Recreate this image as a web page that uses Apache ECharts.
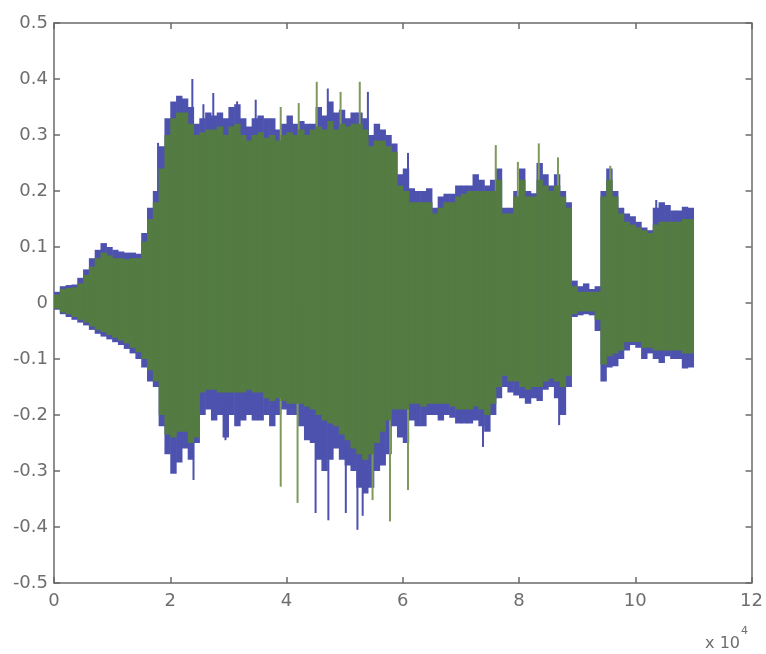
<!DOCTYPE html>
<html>
<head>
<meta charset="utf-8">
<script src="https://cdn.jsdelivr.net/npm/echarts@6/dist/echarts.min.js"></script>
<style>
html,body{margin:0;padding:0;background:#fff;}
#chart{width:766px;height:654px;}
</style>
</head>
<body>
<div id="chart"></div>
<script>
// samples per envelope bin
const BIN = 1000;
// blue channel envelope (max / min per bin)
const blueTop = [0.02,0.03,0.032,0.033,0.045,0.06,0.08,0.095,0.107,0.1,0.095,0.092,0.09,0.09,0.088,0.125,0.17,0.2,0.28,0.33,
0.36,0.37,0.365,0.35,0.32,0.33,0.34,0.335,0.34,0.33,0.35,0.355,0.33,0.315,0.33,0.335,0.33,0.33,0.31,0.32,
0.335,0.32,0.325,0.32,0.32,0.35,0.335,0.36,0.34,0.345,0.33,0.34,0.34,0.33,0.3,0.32,0.31,0.3,0.285,0.23,
0.24,0.205,0.2,0.2,0.205,0.17,0.19,0.195,0.195,0.21,0.21,0.21,0.23,0.22,0.21,0.22,0.24,0.17,0.17,0.2,
0.24,0.2,0.196,0.25,0.23,0.21,0.23,0.2,0.18,0.04,0.03,0.035,0.025,0.03,0.2,0.24,0.2,0.17,0.16,0.155,
0.145,0.135,0.13,0.17,0.18,0.175,0.165,0.165,0.172,0.17];
const blueBottom = [-0.012,-0.02,-0.025,-0.03,-0.035,-0.04,-0.048,-0.055,-0.06,-0.065,-0.07,-0.075,-0.082,-0.09,-0.1,-0.115,-0.14,-0.15,-0.22,-0.27,
-0.305,-0.285,-0.26,-0.28,-0.25,-0.2,-0.19,-0.21,-0.2,-0.24,-0.2,-0.22,-0.21,-0.2,-0.21,-0.21,-0.2,-0.22,-0.2,-0.19,
-0.2,-0.2,-0.22,-0.245,-0.25,-0.28,-0.3,-0.28,-0.26,-0.28,-0.29,-0.3,-0.33,-0.34,-0.33,-0.3,-0.29,-0.27,-0.22,-0.24,
-0.25,-0.21,-0.22,-0.22,-0.2,-0.2,-0.21,-0.2,-0.205,-0.215,-0.215,-0.215,-0.21,-0.22,-0.23,-0.2,-0.17,-0.15,-0.16,-0.165,
-0.17,-0.18,-0.17,-0.175,-0.155,-0.15,-0.17,-0.2,-0.15,-0.025,-0.022,-0.02,-0.022,-0.05,-0.14,-0.115,-0.113,-0.1,-0.085,-0.075,
-0.08,-0.1,-0.09,-0.1,-0.107,-0.095,-0.1,-0.1,-0.117,-0.115];
// green channel envelope
const greenTop = [0.015,0.025,0.027,0.028,0.035,0.05,0.065,0.08,0.09,0.085,0.08,0.08,0.078,0.08,0.08,0.11,0.15,0.18,0.24,0.30,
0.33,0.34,0.34,0.32,0.30,0.305,0.31,0.31,0.315,0.30,0.315,0.32,0.30,0.29,0.30,0.305,0.295,0.30,0.29,0.30,
0.305,0.30,0.31,0.30,0.31,0.315,0.31,0.325,0.31,0.32,0.315,0.32,0.32,0.31,0.28,0.29,0.29,0.28,0.27,0.21,
0.2,0.18,0.18,0.18,0.18,0.16,0.17,0.18,0.18,0.19,0.195,0.2,0.2,0.2,0.2,0.2,0.22,0.16,0.16,0.19,
0.22,0.19,0.19,0.22,0.21,0.2,0.21,0.19,0.17,0.03,0.02,0.02,0.02,0.02,0.19,0.22,0.19,0.16,0.145,0.14,
0.135,0.13,0.125,0.14,0.145,0.145,0.145,0.145,0.15,0.15];
const greenBottom = [-0.01,-0.017,-0.02,-0.025,-0.03,-0.035,-0.042,-0.048,-0.052,-0.057,-0.062,-0.067,-0.072,-0.08,-0.088,-0.1,-0.12,-0.14,-0.2,-0.235,
-0.24,-0.23,-0.23,-0.25,-0.24,-0.16,-0.155,-0.155,-0.16,-0.16,-0.16,-0.16,-0.16,-0.155,-0.16,-0.16,-0.17,-0.175,-0.17,-0.175,
-0.18,-0.18,-0.18,-0.185,-0.19,-0.2,-0.21,-0.215,-0.22,-0.235,-0.245,-0.26,-0.27,-0.28,-0.27,-0.25,-0.23,-0.21,-0.19,-0.19,
-0.19,-0.18,-0.18,-0.185,-0.18,-0.18,-0.18,-0.18,-0.185,-0.19,-0.19,-0.19,-0.185,-0.19,-0.2,-0.18,-0.15,-0.13,-0.14,-0.14,
-0.15,-0.155,-0.15,-0.15,-0.14,-0.135,-0.14,-0.15,-0.13,-0.02,-0.015,-0.015,-0.015,-0.03,-0.11,-0.095,-0.09,-0.085,-0.07,-0.07,
-0.07,-0.08,-0.08,-0.085,-0.085,-0.085,-0.085,-0.085,-0.09,-0.09];
// isolated peaks: sample index and value
const blueSpikeX = [17900,23800,25700,27400,31500,34700,47100,54000,60900,103600,24000,29500,45000,47200,50200,52200,53100,73800,86900];
const blueSpikeY = [0.286,0.40,0.355,0.375,0.36,0.363,0.383,0.377,0.268,0.184,-0.316,-0.245,-0.375,-0.388,-0.375,-0.405,-0.38,-0.257,-0.218];
const greenSpikeX = [39000,42100,45200,49300,52600,76000,79800,83400,86700,95700,39000,41900,54800,57800,60900];
const greenSpikeY = [0.35,0.357,0.395,0.377,0.395,0.282,0.252,0.285,0.26,0.245,-0.328,-0.357,-0.352,-0.39,-0.334];
// axis tick labels
const xTickValues = [0,20000,40000,60000,80000,100000,120000];
const xTickLabels = ['0','2','4','6','8','10','12'];
const yTickValues = [-0.5,-0.4,-0.3,-0.2,-0.1,0,0.1,0.2,0.3,0.4,0.5];
const yTickLabels = ['-0.5','-0.4','-0.3','-0.2','-0.1','0','0.1','0.2','0.3','0.4','0.5'];

const BLUE = '#4d52ae';
const GREEN = '#537b42';
const GREEN_SPIKE = '#7d9a5c';
const AXIS = '#6a6a6a';
const LABEL = '#6e6e6e';

function envData(top, bottom){
  return top.map((t,i)=>[i*BIN,(i+1)*BIN,bottom[i],t]);
}
function spikeData(xs, ys){ return xs.map((x,i)=>[x, ys[i]]); }

function envRender(color){
  return function(params, api){
    const p0 = api.coord([api.value(0), api.value(3)]);
    const p1 = api.coord([api.value(1), api.value(2)]);
    return {type:'rect', shape:{x:p0[0], y:p0[1], width:p1[0]-p0[0]+0.6, height:p1[1]-p0[1]},
      style:{fill:color}};
  };
}
function spikeRender(color){
  return function(params, api){
    const p = api.coord([api.value(0), api.value(1)]);
    const z = api.coord([api.value(0), 0]);
    const y0 = Math.min(p[1], z[1]);
    return {type:'rect', shape:{x:p[0]-1, y:y0, width:2, height:Math.abs(p[1]-z[1])},
      style:{fill:color}};
  };
}

const xLabelFmt = v => { const i = xTickValues.indexOf(v); return i>=0 ? xTickLabels[i] : ''; };
const yLabelFmt = v => { const r = Math.round(v*10)/10; const i = yTickValues.findIndex(t=>Math.abs(t-r)<1e-9); return i>=0 ? yTickLabels[i] : ''; };

const font = 'DejaVu Sans';
const chart = echarts.init(document.getElementById('chart'), null, {renderer:'canvas'});
chart.setOption({
  animation:false,
  backgroundColor:'#ffffff',
  grid:{left:54, right:14, top:23, bottom:71, containLabel:false},
  xAxis:[
    {type:'value', min:0, max:120000, interval:20000, position:'bottom',
     axisLine:{show:true, onZero:false, lineStyle:{color:AXIS, width:1.5}},
     axisTick:{show:true, inside:true, length:6, lineStyle:{color:AXIS, width:1.5}},
     axisLabel:{show:true, margin:9, color:LABEL, fontSize:18, fontFamily:font, formatter:xLabelFmt},
     splitLine:{show:false}},
    {type:'value', min:0, max:120000, interval:20000, position:'top',
     axisLine:{show:true, onZero:false, lineStyle:{color:AXIS, width:1.5}},
     axisTick:{show:true, inside:true, length:6, lineStyle:{color:AXIS, width:1.5}},
     axisLabel:{show:false}, splitLine:{show:false}}
  ],
  yAxis:[
    {type:'value', min:-0.5, max:0.5, interval:0.1, position:'left',
     axisLine:{show:true, onZero:false, lineStyle:{color:AXIS, width:1.5}},
     axisTick:{show:true, inside:true, length:6, lineStyle:{color:AXIS, width:1.5}},
     axisLabel:{show:true, margin:6, color:LABEL, fontSize:18, fontFamily:font, formatter:yLabelFmt},
     splitLine:{show:false}},
    {type:'value', min:-0.5, max:0.5, interval:0.1, position:'right',
     axisLine:{show:true, onZero:false, lineStyle:{color:AXIS, width:1.5}},
     axisTick:{show:true, inside:true, length:6, lineStyle:{color:AXIS, width:1.5}},
     axisLabel:{show:false}, splitLine:{show:false}}
  ],
  series:[
    {type:'custom', name:'blue', renderItem:envRender(BLUE), data:envData(blueTop, blueBottom),
     encode:{x:[0,1], y:[2,3]}, clip:true, silent:true},
    {type:'custom', name:'blueSpikes', renderItem:spikeRender(BLUE), data:spikeData(blueSpikeX, blueSpikeY),
     encode:{x:0, y:1}, clip:true, silent:true},
    {type:'custom', name:'greenSpikes', renderItem:spikeRender(GREEN_SPIKE), data:spikeData(greenSpikeX, greenSpikeY),
     encode:{x:0, y:1}, clip:true, silent:true},
    {type:'custom', name:'green', renderItem:envRender(GREEN), data:envData(greenTop, greenBottom),
     encode:{x:[0,1], y:[2,3]}, clip:true, silent:true}
  ],
  graphic:[
    {type:'text', right:18, top:626,
     style:{text:'{a|x 10}{b|4}', rich:{a:{fontSize:16, fontFamily:font, fill:LABEL, verticalAlign:'bottom', padding:[10,0,0,0]}, b:{fontSize:11, fontFamily:font, fill:LABEL, verticalAlign:'top', padding:[0,0,10,1]}}}}
  ]
});
</script>
</body>
</html>
